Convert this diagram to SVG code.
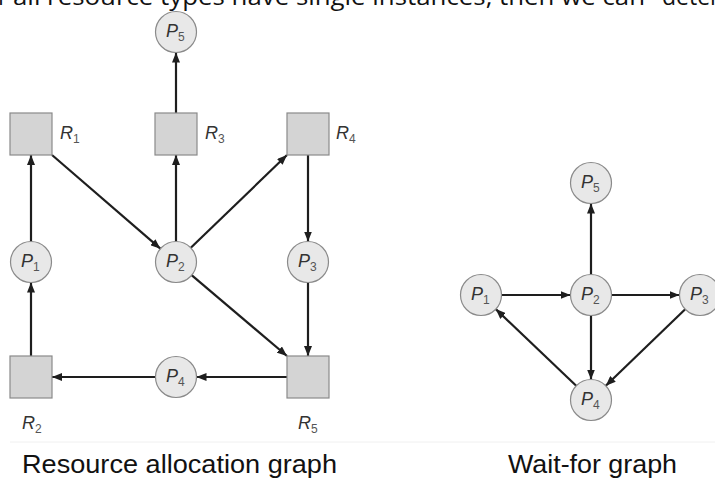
<svg xmlns="http://www.w3.org/2000/svg" width="715" height="480" viewBox="0 0 715 480">
  <style>
    .res { fill: #d4d4d4; stroke: #8a8a8a; stroke-width: 1.2; }
    .proc { fill: #e8e8e8; stroke: #8a8a8a; stroke-width: 1.2; }
    .lbl { font-family: "Liberation Sans", Arial, sans-serif; font-style: italic; font-size: 18px; fill: #333; }
    .sub { font-size: 12px; fill: #555; font-style: normal; }
    .edge { stroke: #1e1e1e; stroke-width: 2.2; fill: none; marker-end: url(#arrow); }
    .title { font-family: "Liberation Sans", Arial, sans-serif; font-size: 25px; fill: #111; }
    .body { font-family: "Open Sans", "Noto Sans", sans-serif; font-size: 23px; fill: #111; }
  </style>
  <defs>
    <marker id="arrow" markerUnits="userSpaceOnUse" markerWidth="10" markerHeight="8" refX="10" refY="4" orient="auto">
      <path d="M0,0 L10,4 L0,8 Z" fill="#1e1e1e"/>
    </marker>
  </defs>

  <rect width="715" height="480" fill="#fff"/>

  <!-- running text line, clipped at the top edge -->
  <text class="body" y="5"><tspan x="-9">If</tspan><tspan x="13" textLength="632" lengthAdjust="spacingAndGlyphs">all resource types have single instances, then we can</tspan><tspan x="662">determine</tspan></text>

  <!-- faint frame edge under the graphs -->
  <line x1="10" y1="442" x2="715" y2="442" stroke="#f0f0f0" stroke-width="1"/>

  <!-- connectors -->
  <g id="connectors">
    <!-- resource allocation graph -->
    <line class="edge" x1="31" y1="241.5" x2="31" y2="155"/>
    <line class="edge" x1="52" y1="155" x2="160.4" y2="248.7"/>
    <line class="edge" x1="176" y1="241.5" x2="176" y2="155"/>
    <line class="edge" x1="176" y1="113" x2="176" y2="52.5"/>
    <line class="edge" x1="190.8" y1="247.8" x2="287" y2="155"/>
    <line class="edge" x1="308" y1="155" x2="308" y2="241.5"/>
    <line class="edge" x1="308" y1="282.5" x2="308" y2="356"/>
    <line class="edge" x1="191.6" y1="275.2" x2="287" y2="356"/>
    <line class="edge" x1="287" y1="377" x2="196.5" y2="377"/>
    <line class="edge" x1="155.5" y1="377" x2="52" y2="377"/>
    <line class="edge" x1="31" y1="356" x2="31" y2="282.5"/>
    <!-- wait-for graph -->
    <line class="edge" x1="591" y1="274.5" x2="591" y2="203.5"/>
    <line class="edge" x1="501.5" y1="295" x2="570.5" y2="295"/>
    <line class="edge" x1="611.5" y1="295" x2="679.5" y2="295"/>
    <line class="edge" x1="591" y1="315.5" x2="591" y2="379.5"/>
    <line class="edge" x1="685.2" y1="309.2" x2="605.8" y2="385.8"/>
    <line class="edge" x1="576.2" y1="385.8" x2="495.8" y2="309.1"/>
  </g>

  <!-- resource allocation graph: resources -->
  <g id="rag-R1"><rect class="res" x="10" y="113" width="42" height="42"/><text class="lbl" x="60" y="139">R<tspan class="sub" dy="4">1</tspan></text></g>
  <g id="rag-R3"><rect class="res" x="155" y="113" width="42" height="42"/><text class="lbl" x="205" y="139">R<tspan class="sub" dy="4">3</tspan></text></g>
  <g id="rag-R4"><rect class="res" x="287" y="113" width="42" height="42"/><text class="lbl" x="336" y="139">R<tspan class="sub" dy="4">4</tspan></text></g>
  <g id="rag-R2"><rect class="res" x="10" y="356" width="42" height="42"/><text class="lbl" x="22" y="429">R<tspan class="sub" dy="4">2</tspan></text></g>
  <g id="rag-R5"><rect class="res" x="287" y="356" width="42" height="42"/><text class="lbl" x="298" y="429">R<tspan class="sub" dy="4">5</tspan></text></g>

  <!-- resource allocation graph: processes -->
  <g id="rag-P5"><circle class="proc" cx="176" cy="32" r="20.5"/><text class="lbl" x="166" y="37">P<tspan class="sub" dy="4">5</tspan></text></g>
  <g id="rag-P1"><circle class="proc" cx="31" cy="262" r="20.5"/><text class="lbl" x="21" y="267">P<tspan class="sub" dy="4">1</tspan></text></g>
  <g id="rag-P2"><circle class="proc" cx="176" cy="262" r="20.5"/><text class="lbl" x="166" y="267">P<tspan class="sub" dy="4">2</tspan></text></g>
  <g id="rag-P3"><circle class="proc" cx="308" cy="262" r="20.5"/><text class="lbl" x="298" y="267">P<tspan class="sub" dy="4">3</tspan></text></g>
  <g id="rag-P4"><circle class="proc" cx="176" cy="377" r="20.5"/><text class="lbl" x="166" y="382">P<tspan class="sub" dy="4">4</tspan></text></g>

  <!-- wait-for graph -->
  <g id="wfg-P5"><circle class="proc" cx="591" cy="183" r="20.5"/><text class="lbl" x="581" y="188">P<tspan class="sub" dy="4">5</tspan></text></g>
  <g id="wfg-P1"><circle class="proc" cx="481" cy="295" r="20.5"/><text class="lbl" x="471" y="300">P<tspan class="sub" dy="4">1</tspan></text></g>
  <g id="wfg-P2"><circle class="proc" cx="591" cy="295" r="20.5"/><text class="lbl" x="581" y="300">P<tspan class="sub" dy="4">2</tspan></text></g>
  <g id="wfg-P3"><circle class="proc" cx="700" cy="295" r="20.5"/><text class="lbl" x="690" y="300">P<tspan class="sub" dy="4">3</tspan></text></g>
  <g id="wfg-P4"><circle class="proc" cx="591" cy="400" r="20.5"/><text class="lbl" x="581" y="405">P<tspan class="sub" dy="4">4</tspan></text></g>

  <!-- captions -->
  <text class="title" x="22" y="473" textLength="315" lengthAdjust="spacingAndGlyphs">Resource allocation graph</text>
  <text class="title" x="508" y="473" textLength="169" lengthAdjust="spacingAndGlyphs">Wait-for graph</text>
</svg>
